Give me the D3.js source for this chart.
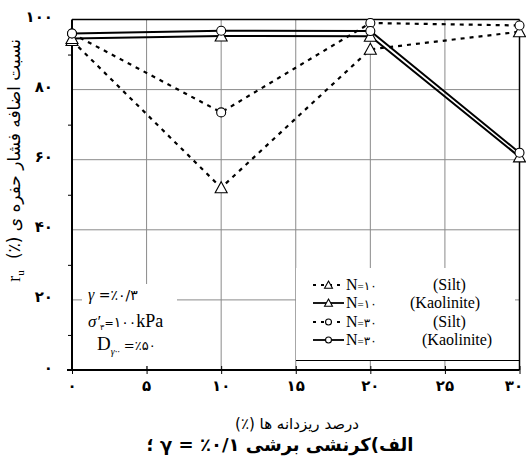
<!DOCTYPE html>
<html>
<head>
<meta charset="utf-8">
<script src="https://cdn.jsdelivr.net/npm/d3@7"></script>
<style>
  body { margin: 0; background: #fff; }
  svg { display: block; }
  .fa { font-family: "DejaVu Sans", sans-serif; }
  .lat { font-family: "Liberation Serif", "DejaVu Serif", serif; }
</style>
</head>
<body>
<div id="chart"></div>
<script>
// fines content (%) on the x axis
var fines = [0, 10, 20, 30];
// excess pore pressure ratio r_u (%)
var siltN10 = [94, 52, 91.5, 96.5];
var kaolN10 = [94.6, 95.3, 95.2, 60.8];
var siltN30 = [96, 73.5, 99, 98.3];
var kaolN30 = [96, 96.8, 96.7, 62];

var xTicks = [0, 5, 10, 15, 20, 25, 30];
var yTicks = [0, 20, 40, 60, 80, 100];
var yMinor = [0, 10, 30, 50, 70, 90];

var series = [
	{ name: 'siltN10', values: siltN10, dash: '4,5', marker: 'tri', n: '۱۰', soil: '(Silt)' },
	{ name: 'kaolN10', values: kaolN10, dash: null, marker: 'tri', n: '۱۰', soil: '(Kaolinite)' },
	{ name: 'siltN30', values: siltN30, dash: '4,5', marker: 'circ', n: '۳۰', soil: '(Silt)' },
	{ name: 'kaolN30', values: kaolN30, dash: null, marker: 'circ', n: '۳۰', soil: '(Kaolinite)' }
];

var W = 526, H = 457;
var fa = function(v) {
	return String(v).replace(/[0-9]/g, function(d) { return '۰۱۲۳۴۵۶۷۸۹'[+d]; });
};

var svg = d3.select('#chart').append('svg').attr('width', W).attr('height', H);

var x = d3.scaleLinear().domain([0, 30]).range([72, 519.5]);
var y = d3.scaleLinear().domain([0, 100]).range([370, 19.5]);

// grid
var grid = svg.append('g').attr('stroke', '#8a8a8a').attr('stroke-width', 1);
grid.selectAll('.gx').data(xTicks.slice(1, -1)).enter().append('line')
	.attr('x1', function(d) { return x(d); }).attr('x2', function(d) { return x(d); })
	.attr('y1', y(0)).attr('y2', y(100));
grid.selectAll('.gy').data(yTicks.slice(1, -1)).enter().append('line')
	.attr('x1', x(0)).attr('x2', x(30))
	.attr('y1', function(d) { return y(d); }).attr('y2', function(d) { return y(d); });

// boxes that hide the grid under the notes and legend
svg.append('rect').attr('x', 82).attr('y', 284).attr('width', 95).attr('height', 82).attr('fill', '#fff');
svg.append('rect').attr('x', 296).attr('y', 268).attr('width', 219).attr('height', 92).attr('fill', '#fff');
svg.append('line').attr('x1', 296).attr('x2', 520).attr('y1', 360.5).attr('y2', 360.5)
	.attr('stroke', '#000').attr('stroke-width', 1.2);

// frame top / right
svg.append('line').attr('x1', x(0)).attr('x2', x(30)).attr('y1', y(100)).attr('y2', y(100))
	.attr('stroke', '#000').attr('stroke-width', 1.5);
svg.append('line').attr('x1', x(30)).attr('x2', x(30)).attr('y1', y(100)).attr('y2', y(0))
	.attr('stroke', '#000').attr('stroke-width', 1.5);

// y axis
var yAxis = svg.append('g').attr('transform', 'translate(' + x(0) + ',0)')
	.call(d3.axisLeft(y).tickValues(yMinor).tickSize(4).tickFormat(''));
yAxis.select('.domain').attr('stroke-width', 2).attr('d', 'M0,' + y(0) + 'V' + y(100));
svg.append('g').selectAll('text').data(yTicks).enter().append('text')
	.attr('class', 'fa')
	.attr('x', 53).attr('y', function(d) { return y(d) - 2; })
	.attr('text-anchor', 'end').attr('dominant-baseline', 'middle')
	.attr('font-size', 15).attr('font-weight', 'bold')
	.text(function(d) { return fa(d); });

// x axis
var xAxis = svg.append('g').attr('transform', 'translate(0,' + y(0) + ')')
	.call(d3.axisBottom(x).tickValues(xTicks).tickSize(4).tickFormat(''));
xAxis.select('.domain').attr('stroke-width', 2).attr('d', 'M67,0H' + x(30));
xAxis.selectAll('.tick line').attr('y1', -4).attr('y2', 4);
svg.append('g').selectAll('text').data(xTicks).enter().append('text')
	.attr('class', 'fa')
	.attr('x', function(d) { return Math.min(x(d), 514); }).attr('y', 386)
	.attr('text-anchor', 'middle').attr('dominant-baseline', 'middle')
	.attr('font-size', 15).attr('font-weight', 'bold')
	.text(function(d) { return fa(d); });

// lines
var line = d3.line().x(function(d, i) { return x(fines[i]); }).y(function(d) { return y(d); });
svg.append('g').selectAll('path').data(series).enter().append('path')
	.attr('d', function(s) { return line(s.values); })
	.attr('fill', 'none').attr('stroke', '#000')
	.attr('stroke-width', function(s) { return s.dash ? 2.2 : 2; })
	.attr('stroke-dasharray', function(s) { return s.dash; });

// markers
function drawMarker(g, kind, cx, cy, r) {
	if (kind === 'tri') {
		g.append('path')
			.attr('d', 'M' + cx + ',' + (cy - r * 1.2) + 'L' + (cx + r * 1.2) + ',' + (cy + r) + 'L' + (cx - r * 1.2) + ',' + (cy + r) + 'Z')
			.attr('fill', '#fff').attr('stroke', '#000').attr('stroke-width', 1.1);
	} else {
		g.append('circle').attr('cx', cx).attr('cy', cy).attr('r', r * 0.9)
			.attr('fill', '#fff').attr('stroke', '#000').attr('stroke-width', 1.1);
	}
}
var mk = svg.append('g');
series.forEach(function(s) {
	s.values.forEach(function(v, i) { drawMarker(mk, s.marker, x(fines[i]), y(v), 5); });
});

// legend
var leg = svg.append('g');
series.forEach(function(s, i) {
	var ly = [285, 303, 322, 340][i];
	leg.append('line').attr('x1', 313).attr('x2', 344).attr('y1', ly).attr('y2', ly)
		.attr('stroke', '#000').attr('stroke-width', 1.8)
		.attr('stroke-dasharray', s.dash ? '3,5' : null);
	drawMarker(leg, s.marker, 328.5, ly, 3.3);
	var t = leg.append('text').attr('class', 'lat').attr('x', 346).attr('y', ly + 5).attr('font-size', 16);
	t.append('tspan').text('N');
	t.append('tspan').attr('font-size', 11).text('=');
	t.append('tspan').attr('class', 'fa').attr('font-size', 12).text(s.n);
	var sx = s.soil === '(Silt)' ? 433 : (i === 1 ? 410 : 422);
	leg.append('text').attr('class', 'lat').attr('x', sx).attr('y', ly + 5)
		.attr('font-size', 16).text(s.soil);
});

// notes
var note = svg.append('g').attr('font-size', 15);
var n1 = note.append('text').attr('x', 88).attr('y', 300);
n1.append('tspan').attr('class', 'lat').attr('font-style', 'italic').attr('font-size', 16).text('γ');
n1.append('tspan').attr('class', 'fa').attr('font-size', 14).text(' =٪۰/۳');
var n2 = note.append('text').attr('x', 88).attr('y', 327);
n2.append('tspan').attr('class', 'lat').attr('font-style', 'italic').attr('font-size', 17).text('σ′');
n2.append('tspan').attr('class', 'fa').attr('font-size', 8).attr('dy', 3).text('۳');
n2.append('tspan').attr('class', 'fa').attr('font-size', 11).attr('dy', -3).text('=');
n2.append('tspan').attr('class', 'fa').attr('font-size', 14).text('۱۰۰');
n2.append('tspan').attr('class', 'lat').attr('font-size', 18).text('kPa');
var n3 = note.append('text').attr('x', 97).attr('y', 350);
n3.append('tspan').attr('class', 'lat').attr('font-size', 19).text('D');
n3.append('tspan').attr('class', 'lat').attr('font-style', 'italic').attr('font-size', 10).attr('dy', 5).text('γ··');
n3.append('tspan').attr('class', 'fa').attr('font-size', 13).attr('dy', -5).text(' =٪۵۰');

// axis titles
svg.append('text').attr('class', 'fa').attr('x', 297).attr('y', 429)
	.attr('text-anchor', 'middle').attr('direction', 'rtl').attr('font-size', 15)
	.text('درصد ریزدانه ها (٪)');
svg.append('text').attr('class', 'fa').attr('x', 280).attr('y', 451)
	.attr('text-anchor', 'middle').attr('direction', 'rtl')
	.attr('font-size', 18).attr('font-weight', 'bold')
	.text('الف)کرنشی برشی ۰/۱٪ = γ ؛');

var yl = svg.append('g').attr('transform', 'translate(20,170) rotate(-90)');
yl.append('text').attr('class', 'fa').attr('x', 21).attr('y', 0)
	.attr('text-anchor', 'middle').attr('direction', 'rtl').attr('font-size', 17)
	.text('نسبت اضافه فشار حفره ی (٪)');
var ru = yl.append('text').attr('class', 'lat').attr('x', -106).attr('y', 0)
	.attr('text-anchor', 'middle').attr('font-size', 18);
ru.append('tspan').text('r');
ru.append('tspan').attr('font-size', 11).attr('dy', 4).text('u');
</script>
</body>
</html>
